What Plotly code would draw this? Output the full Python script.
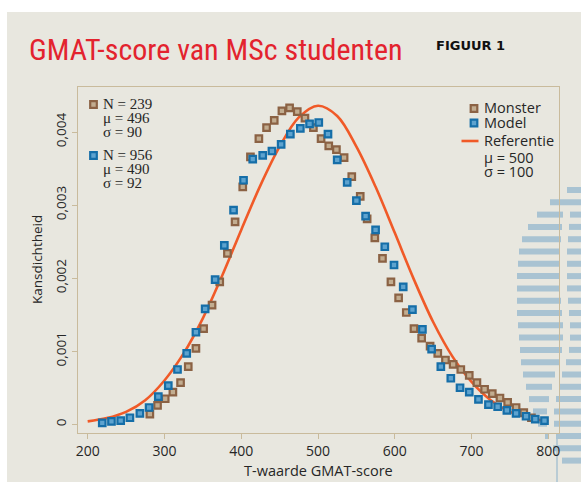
import plotly.graph_objects as go

# ---------------- data ----------------
monster_x = [281, 291, 301, 311, 321, 331, 341, 351, 362, 372, 382, 392, 402, 412, 423, 433, 443,
             453, 463, 473, 483, 494, 504, 514, 524, 534, 544, 555, 564, 574, 584, 595, 605, 615,
             625, 635, 646, 656, 666, 676, 686, 697, 707, 717, 727, 737, 747, 758, 768, 778]
monster_y = [0.14, 0.26, 0.35, 0.44, 0.57, 0.79, 1.04, 1.31, 1.63, 1.95, 2.34, 2.77, 3.25, 3.66,
             3.91, 4.06, 4.16, 4.29, 4.33, 4.28, 4.19, 4.06, 3.91, 3.81, 3.76, 3.65, 3.39, 3.12,
             2.81, 2.55, 2.27, 1.95, 1.73, 1.53, 1.31, 1.18, 1.07, 0.97, 0.88, 0.82, 0.75, 0.67,
             0.57, 0.48, 0.42, 0.36, 0.30, 0.23, 0.16, 0.09]

model_x = [219, 231, 243, 255, 268, 280, 292, 305, 317, 329, 341, 353, 366, 378, 390, 403, 415,
           428, 440, 452, 464, 477, 489, 501, 513, 525, 538, 550, 562, 575, 587, 599, 611, 623,
           636, 648, 660, 673, 685, 697, 709, 722, 734, 746, 758, 771, 783, 795]
model_y = [0.02, 0.04, 0.05, 0.09, 0.15, 0.23, 0.38, 0.53, 0.75, 0.97, 1.26, 1.58, 1.98, 2.45,
           2.93, 3.34, 3.63, 3.68, 3.74, 3.83, 3.97, 4.05, 4.11, 4.13, 3.97, 3.62, 3.31, 3.06,
           2.85, 2.66, 2.43, 2.18, 1.88, 1.57, 1.30, 1.03, 0.79, 0.63, 0.50, 0.44, 0.34, 0.27,
           0.24, 0.19, 0.15, 0.11, 0.07, 0.05]

ref_x = [200, 225, 250, 275, 300, 325, 350, 375, 400, 425, 450, 475, 500, 525, 550, 575, 600,
         625, 650, 675, 700, 725, 750, 775, 800]
ref_y = [0.04, 0.085, 0.17, 0.33, 0.60, 0.97, 1.45, 2.03, 2.66, 3.27, 3.80, 4.20, 4.36, 4.22,
         3.80, 3.25, 2.62, 1.98, 1.40, 0.93, 0.58, 0.33, 0.17, 0.085, 0.04]

x_ticks = [200, 300, 400, 500, 600, 700, 800]
y_ticks = [0, 0.001, 0.002, 0.003, 0.004]
y_tick_text = ["0", "0,001", "0,002", "0,003", "0,004"]

title_text = "GMAT-score van MSc studenten"
figure_label = "FIGUUR 1"
x_title = "T-waarde GMAT-score"
y_title = "Kansdichtheid"
block1 = ["N = 239", "μ = 496", "σ = 90"]
block2 = ["N = 956", "μ = 490", "σ = 92"]
ref_lines = ["μ = 500", "σ = 100"]

# ---------------- styling ----------------
W, H = 581, 482
L, R, T, B = 78, 559, 87, 433
BG = "#e8e7df"
FRAME = "#c9bb9c"
TXT = "#262626"
BROWN_LINE, BROWN_FILL = "#8b6244", "#c2ad90"
BLUE_LINE, BLUE_FILL = "#156ea8", "#5ea3cf"
ORANGE = "#f05a28"
STRIPE = "#a9c3d2"

# decorative logo: left edge (px) of each stripe row and gap position (0 = no gap)
logo_left = [567, 550, 537, 528, 522, 519, 518, 517, 517, 517, 517, 518, 519, 520, 521, 523,
             526, 529, 533, 538, 545, 553, 562]
logo_gap = [0, 0, 566, 565, 564, 563, 563, 563, 563, 564, 565, 566, 566, 565, 562, 558,
            555, 552, 550, 550, 552, 0, 0]


def px(xp):
    return (xp - L) / (R - L)


def py(yp):
    return (B - yp) / (B - T)


fig = go.Figure()

fig.add_trace(go.Scatter(x=ref_x, y=[v / 1000 for v in ref_y], mode="lines",
                         line=dict(color=ORANGE, width=2.6, shape="spline", smoothing=1.0),
                         name="Referentie", showlegend=False, hoverinfo="skip"))
fig.add_trace(go.Scatter(x=monster_x, y=[v / 1000 for v in monster_y], mode="markers",
                         marker=dict(symbol="square", size=6.5, color=BROWN_FILL,
                                     line=dict(color=BROWN_LINE, width=2.2)),
                         name="Monster", showlegend=False))
fig.add_trace(go.Scatter(x=model_x, y=[v / 1000 for v in model_y], mode="markers",
                         marker=dict(symbol="square", size=6.5, color=BLUE_FILL,
                                     line=dict(color=BLUE_LINE, width=2.2)),
                         name="Model", showlegend=False))

shapes = []
# white strip top and left
shapes.append(dict(type="rect", xref="paper", yref="paper", x0=px(-5), x1=px(W + 5),
                   y0=py(12), y1=py(-5), fillcolor="white", line=dict(width=0), layer="below"))
shapes.append(dict(type="rect", xref="paper", yref="paper", x0=px(-5), x1=px(7),
                   y0=py(H + 5), y1=py(-5), fillcolor="white", line=dict(width=0), layer="below"))

# decorative striped logo on the right
for k, (left, gap) in enumerate(zip(logo_left, logo_gap)):
    yy = 190 + 12.3 * k
    segs = [(left, gap - 3), (gap + 4, W + 10)] if gap else [(left, W + 10)]
    for a, b in segs:
        if b > a:
            shapes.append(dict(type="rect", xref="paper", yref="paper", x0=px(a), x1=px(b),
                               y0=py(yy + 3), y1=py(yy - 3), fillcolor=STRIPE,
                               line=dict(width=0), layer="below"))
shapes.append(dict(type="rect", xref="paper", yref="paper", x0=px(557), x1=px(W + 10),
                   y0=py(H + 10), y1=py(436), fillcolor="rgba(0,0,0,0)",
                   line=dict(color=STRIPE, width=1.5), layer="below"))


def square(cxp, cyp, fill, edge):
    return dict(type="rect", xref="paper", yref="paper", xsizemode="pixel", ysizemode="pixel",
                xanchor=px(cxp), yanchor=py(cyp), x0=-3.3, x1=3.3, y0=-3.3, y1=3.3,
                fillcolor=fill, line=dict(color=edge, width=2.2))


shapes.append(square(93.5, 104.5, BROWN_FILL, BROWN_LINE))
shapes.append(square(93.5, 155.5, BLUE_FILL, BLUE_LINE))
shapes.append(square(474, 108.5, BROWN_FILL, BROWN_LINE))
shapes.append(square(474, 123, BLUE_FILL, BLUE_LINE))
shapes.append(dict(type="line", xref="paper", yref="paper", x0=px(461.5), x1=px(478.5),
                   y0=py(141), y1=py(141), line=dict(color=ORANGE, width=2.6)))

ann = []


def text(xp, yp, s, size, family, color=TXT, xanchor="left", angle=0, bold=False):
    ann.append(dict(xref="paper", yref="paper", x=px(xp), y=py(yp), text=("<b>%s</b>" % s) if bold else s,
                    showarrow=False, xanchor=xanchor, yanchor="middle", textangle=angle,
                    font=dict(size=size, family=family, color=color)))


text(27, 49, title_text, 30, "Liberation Sans Narrow, Roboto Condensed, Roboto", color="#e3232e")
text(507, 46, figure_label, 13, "DejaVu Sans", color="#111111", xanchor="right", bold=True)

serif = "Liberation Serif, DejaVu Serif"
for i, s in enumerate(block1):
    text(101, 104 + i * 14, s, 15, serif)
for i, s in enumerate(block2):
    text(101, 155 + i * 14, s, 15, serif)

sans = "Open Sans, Noto Sans"
text(482, 107.5, "Monster", 14.5, sans)
text(482, 122, "Model", 14.5, sans)
text(482, 140.5, "Referentie", 14.5, sans)
text(482, 157, ref_lines[0], 14.5, sans)
text(482, 171.5, ref_lines[1], 14.5, sans)

text(318, 471, x_title, 14.5, sans, xanchor="center")
text(37, 260, y_title, 13.5, sans, xanchor="center", angle=-90)

fig.update_layout(
    width=W, height=H, autosize=False,
    margin=dict(l=L, r=W - R, t=T, b=H - B, pad=0),
    paper_bgcolor=BG, plot_bgcolor="rgba(0,0,0,0)",
    showlegend=False, shapes=shapes, annotations=ann,
    font=dict(family=sans, color=TXT),
)
fig.update_xaxes(range=[187.4, 813.9], tickvals=x_ticks, ticks="outside", ticklen=5,
                 tickcolor=FRAME, tickwidth=1, showline=True, linecolor=FRAME, linewidth=1.3,
                 mirror=True, showgrid=False, zeroline=False,
                 tickfont=dict(size=14, family=sans, color=TXT))
fig.update_yaxes(range=[-0.000119, 0.004616], tickvals=y_ticks, ticktext=y_tick_text,
                 ticks="outside", ticklen=5, tickcolor=FRAME, tickwidth=1, tickangle=-90,
                 showline=True, linecolor=FRAME, linewidth=1.3, mirror=True, showgrid=False,
                 zeroline=False, tickfont=dict(size=13.5, family=sans, color=TXT))

fig.write_html("out.html", config={"displayModeBar": False},
               post_script="document.body.style.margin='0';document.body.style.padding='0';"
                           "document.documentElement.style.overflow='hidden';")
